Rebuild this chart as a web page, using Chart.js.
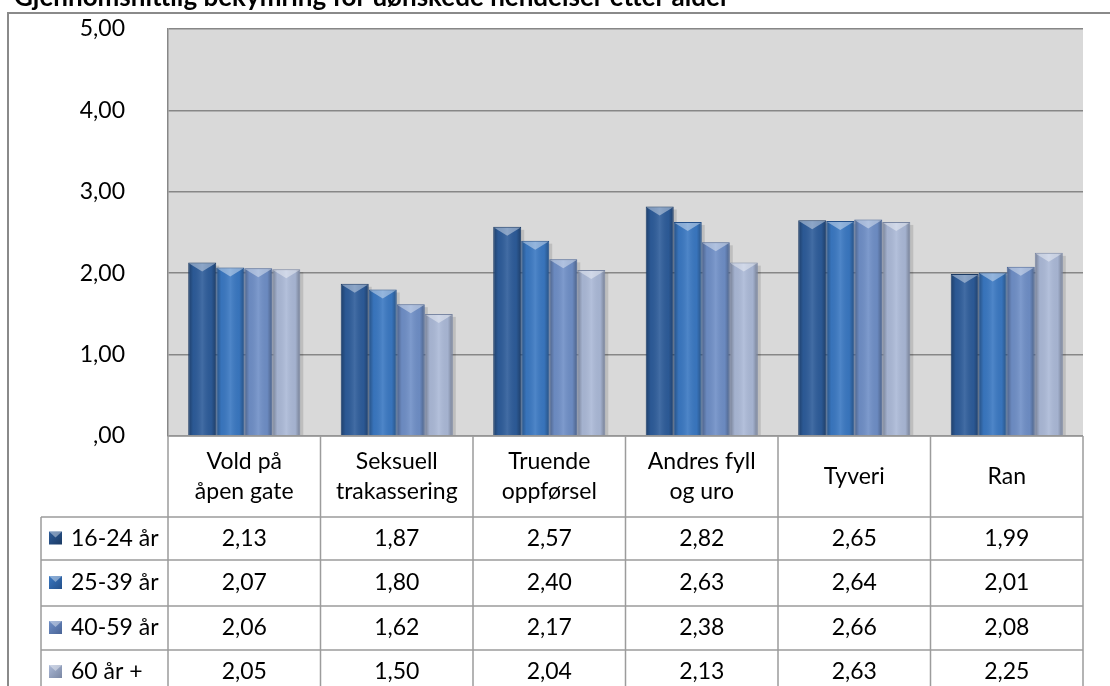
<!DOCTYPE html>
<html>
<head>
<meta charset="utf-8">
<script src="https://cdn.jsdelivr.net/npm/chart.js@4.4.1/dist/chart.umd.min.js"></script>
<style>
  body { margin: 0; background: #fff; }
  #wrap { position: relative; width: 1110px; height: 686px; overflow: hidden; }
</style>
</head>
<body>
<div id="wrap"><canvas id="graf" width="1110" height="686"></canvas></div>
<script>
// Données
const tittel = "Gjennomsnittlig bekymring for uønskede hendelser etter alder";
const kategorier = [["Vold på", "åpen gate"], ["Seksuell", "trakassering"], ["Truende", "oppførsel"], ["Andres fyll", "og uro"], ["Tyveri"], ["Ran"]];
const serier = ["16-24 år", "25-39 år", "40-59 år", "60 år +"];
const verdier1624 = [2.13, 1.87, 2.57, 2.82, 2.65, 1.99];
const verdier2539 = [2.07, 1.80, 2.40, 2.63, 2.64, 2.01];
const verdier4059 = [2.06, 1.62, 2.17, 2.38, 2.66, 2.08];
const verdier60 = [2.05, 1.50, 2.04, 2.13, 2.63, 2.25];
const yEtiketter = [",00", "1,00", "2,00", "3,00", "4,00", "5,00"];

const farger = ["#2d5c9a", "#3a78c2", "#6f8fc7", "#abb9d7"];
const kantFarger = ["#1b3a63", "#24508a", "#4a6496", "#7a87a3"];
const police = "Lato, 'Noto Sans', sans-serif";
const tekstStr = 23;

function format(v) {
    return v.toFixed(2).replace(".", ",");
}

// Tabell og ramme
const tabellPlugin = {
    id: "tabell",
    beforeDraw(chart) {
        const ctx = chart.ctx;
        const a = chart.chartArea;
        ctx.save();
        ctx.fillStyle = "#fff";
        ctx.fillRect(0, 0, chart.width, chart.height);
        // ramme
        ctx.strokeStyle = "#8a8a8a";
        ctx.lineWidth = 2;
        ctx.beginPath();
        ctx.moveTo(8, chart.height);
        ctx.lineTo(8, 13);
        ctx.lineTo(chart.width, 13);
        ctx.stroke();
        // plottområde
        ctx.fillStyle = "#d9d9d9";
        ctx.fillRect(a.left, a.top, a.right - a.left, a.bottom - a.top);
        ctx.restore();
    },
    beforeDatasetsDraw(chart) {
        const ctx = chart.ctx;
        ctx.save();
        ctx.fillStyle = "rgba(0,0,0,0.12)";
        chart.data.datasets.forEach((ds, i) => {
            chart.getDatasetMeta(i).data.forEach(el => {
                const p = el.getProps(["x", "y", "base", "width"], true);
                ctx.fillRect(p.x - p.width / 2 + 3, p.y + 3, p.width, p.base - p.y - 3);
            });
        });
        ctx.restore();
    },
    afterDatasetsDraw(chart) {
        const ctx = chart.ctx;
        ctx.save();
        chart.data.datasets.forEach((ds, i) => {
            chart.getDatasetMeta(i).data.forEach(el => {
                const p = el.getProps(["x", "y", "base", "width"], true);
                const l = p.x - p.width / 2;
                const r = p.x + p.width / 2;
                const g = ctx.createLinearGradient(l, 0, r, 0);
                g.addColorStop(0, "rgba(0,0,0,0.32)");
                g.addColorStop(0.18, "rgba(0,0,0,0.04)");
                g.addColorStop(0.5, "rgba(255,255,255,0.10)");
                g.addColorStop(0.82, "rgba(0,0,0,0.04)");
                g.addColorStop(1, "rgba(0,0,0,0.32)");
                ctx.fillStyle = g;
                ctx.fillRect(l + 1, p.y + 1, p.width - 2, p.base - p.y - 1);
                // toppfas
                ctx.fillStyle = "rgba(255,255,255,0.4)";
                ctx.beginPath();
                ctx.moveTo(l + 1, p.y + 1);
                ctx.lineTo(r - 1, p.y + 1);
                ctx.lineTo(p.x, p.y + 9);
                ctx.closePath();
                ctx.fill();
            });
        });
        ctx.restore();
    },
    afterDraw(chart) {
        const ctx = chart.ctx;
        const a = chart.chartArea;
        const x = chart.scales.x;
        const bredde = (a.right - a.left) / kategorier.length;
        const rader = [517, 560, 606, 650, 694];
        const alleVerdier = [verdier1624, verdier2539, verdier4059, verdier60];
        ctx.save();
        ctx.strokeStyle = "#9c9c9c";
        ctx.lineWidth = 1.5;
        ctx.beginPath();
        for (let i = 0; i <= kategorier.length; i++) {
            const xx = a.left + i * bredde;
            ctx.moveTo(xx, a.bottom);
            ctx.lineTo(xx, chart.height);
        }
        rader.slice(0, 4).forEach(y => {
            ctx.moveTo(41, y);
            ctx.lineTo(a.right, y);
        });
        ctx.moveTo(41, rader[0]);
        ctx.lineTo(41, chart.height);
        ctx.moveTo(a.left, a.bottom);
        ctx.lineTo(a.right, a.bottom);
        ctx.stroke();

        ctx.fillStyle = "#000";
        ctx.font = tekstStr + "px " + police;
        ctx.textAlign = "center";
        ctx.textBaseline = "middle";
        // kategorier
        kategorier.forEach((k, i) => {
            const cx = x.getPixelForValue(i);
            const midt = (a.bottom + rader[0]) / 2;
            k.forEach((linje, j) => {
                ctx.fillText(linje, cx, midt + (j - (k.length - 1) / 2) * 30);
            });
        });
        // rader
        serier.forEach((s, r) => {
            const cy = (rader[r] + rader[r + 1]) / 2;
            const g = ctx.createLinearGradient(49, cy - 7, 62, cy + 6);
            g.addColorStop(0, farger[r]);
            g.addColorStop(1, kantFarger[r]);
            ctx.fillStyle = g;
            ctx.fillRect(49, cy - 7, 13, 13);
            ctx.fillStyle = "rgba(255,255,255,0.4)";
            ctx.beginPath();
            ctx.moveTo(49, cy - 7);
            ctx.lineTo(62, cy - 7);
            ctx.lineTo(55.5, cy - 1);
            ctx.closePath();
            ctx.fill();
            ctx.fillStyle = "#000";
            ctx.textAlign = "left";
            ctx.fillText(s, 71, cy);
            ctx.textAlign = "center";
            alleVerdier[r].forEach((v, i) => {
                ctx.fillText(format(v), x.getPixelForValue(i), cy);
            });
        });
        // tittel (avkuttet i toppen)
        ctx.font = "bold 26px " + police;
        ctx.textAlign = "left";
        ctx.textBaseline = "alphabetic";
        ctx.fillText(tittel, 14, 6);
        ctx.restore();
    }
};

let ctx = document.getElementById("graf").getContext("2d");
let chart = new Chart(ctx, {
    type: "bar",
    data: {
        labels: kategorier,
        datasets: serier.map((s, i) => ({
            label: s,
            data: [verdier1624, verdier2539, verdier4059, verdier60][i],
            backgroundColor: farger[i],
            borderColor: kantFarger[i],
            borderWidth: 1,
            borderSkipped: "bottom",
            barPercentage: 1.0,
            categoryPercentage: 0.735
        }))
    },
    options: {
        responsive: false,
        animation: false,
        layout: { padding: { left: 0, top: 29, right: 27, bottom: 250 } },
        plugins: {
            legend: { display: false },
            tooltip: { enabled: false }
        },
        scales: {
            x: { display: false },
            y: {
                min: 0,
                max: 5,
                afterFit: (s) => { s.width = 168; },
                afterBuildTicks: (s) => { s.ticks = yEtiketter.map((t, i) => ({ value: i })); },
                ticks: {
                    callback: (v, i) => yEtiketter[i],
                    color: "#000",
                    padding: 0,
                    font: { family: police, size: tekstStr }
                },
                grid: { color: "#878787", lineWidth: 1.5, drawTicks: true, tickLength: 43, tickColor: "rgba(0,0,0,0)" },
                border: { display: true, color: "#878787", width: 1.5 }
            }
        }
    },
    plugins: [tabellPlugin]
});
</script>
</body>
</html>
